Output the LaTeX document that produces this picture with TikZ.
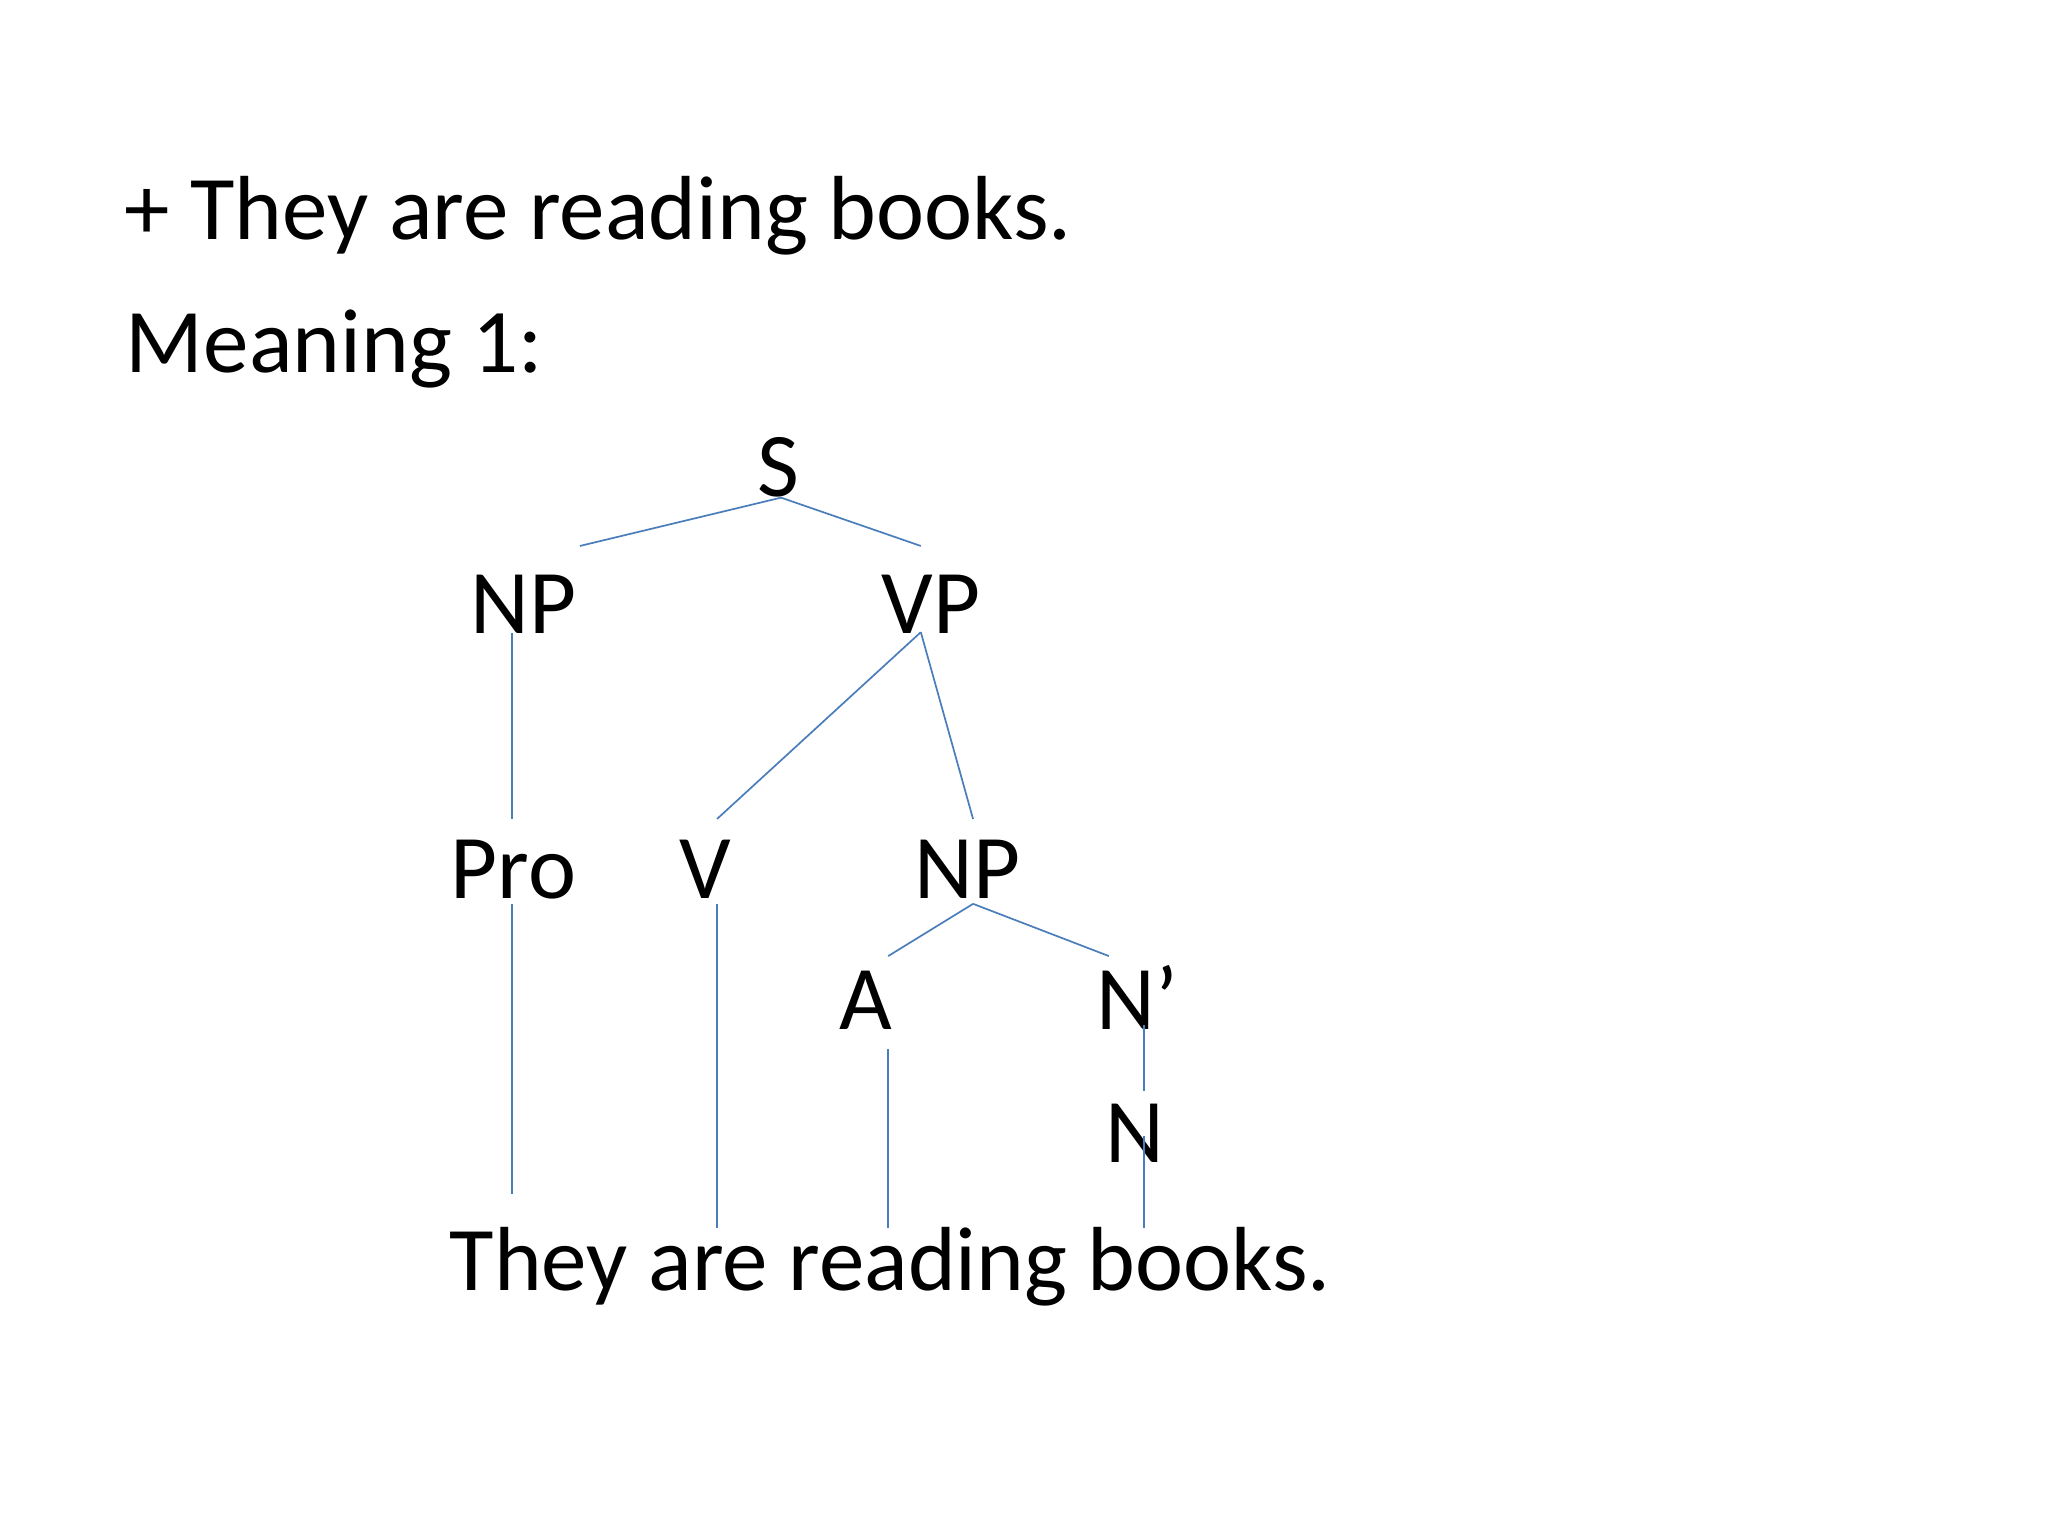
\documentclass[tikz,border=0pt]{standalone}
\usepackage{fontspec}
\setmainfont{Carlito}
\begin{document}
\begin{tikzpicture}[x=0.45918pt,y=-0.45918pt,
  txt/.style={font=\fontsize{32}{38}\selectfont, inner sep=0pt},
  lbl/.style={txt, anchor=base},
  edge/.style={draw=lineblue, line width=0.6pt}]
\definecolor{lineblue}{HTML}{4A7EBB}
\useasboundingbox[fill=white] (0,0) rectangle (1568,1176);
% header texts
\node[txt, anchor=base west] (title) at (95,183) {+ They are reading books.};
\node[txt, anchor=base west] (meaning) at (96,285) {Meaning 1:};
% tree labels
\node[lbl] (S) at (596,380) {S};
\node[lbl] (NP1) at (401,485) {NP};
\node[lbl] (VP) at (713,485) {VP};
\node[lbl] (Pro) at (393,688) {Pro};
\node[lbl] (V) at (540,688) {V};
\node[lbl] (NP2) at (741,688) {NP};
\node[lbl] (A) at (663,788) {A};
\node[lbl] (Np) at (871,788) {N’};
\node[lbl] (N) at (869,890) {N};
\node[txt, anchor=base west] (sent) at (344,988) {They are reading books.};
% connector end points
\coordinate (S-b) at (598,381);
\coordinate (NP1-t) at (444,418);
\coordinate (VP-t) at (705,418);
\coordinate (NP1-b) at (392,485);
\coordinate (Pro-t) at (392,627);
\coordinate (VP-b) at (705,484);
\coordinate (V-t) at (549,627);
\coordinate (NP2-t) at (745,627);
\coordinate (Pro-b) at (392,692);
\coordinate (They-t) at (392,914);
\coordinate (V-b) at (549,692);
\coordinate (are-t) at (549,940);
\coordinate (NP2-b) at (745,692);
\coordinate (A-t) at (680,732);
\coordinate (Np-t) at (849,732);
\coordinate (A-b) at (680,803);
\coordinate (reading-t) at (680,940);
\coordinate (Np-b) at (876,785);
\coordinate (N-t) at (876,835);
\coordinate (N-b) at (876,870);
\coordinate (books-t) at (876,940);
% connectors
\draw[edge] (S-b) -- (NP1-t);
\draw[edge] (S-b) -- (VP-t);
\draw[edge] (NP1-b) -- (Pro-t);
\draw[edge] (VP-b) -- (V-t);
\draw[edge] (VP-b) -- (NP2-t);
\draw[edge] (Pro-b) -- (They-t);
\draw[edge] (V-b) -- (are-t);
\draw[edge] (NP2-b) -- (A-t);
\draw[edge] (NP2-b) -- (Np-t);
\draw[edge] (A-b) -- (reading-t);
\draw[edge] (Np-b) -- (N-t);
\draw[edge] (N-b) -- (books-t);
\end{tikzpicture}
\end{document}
